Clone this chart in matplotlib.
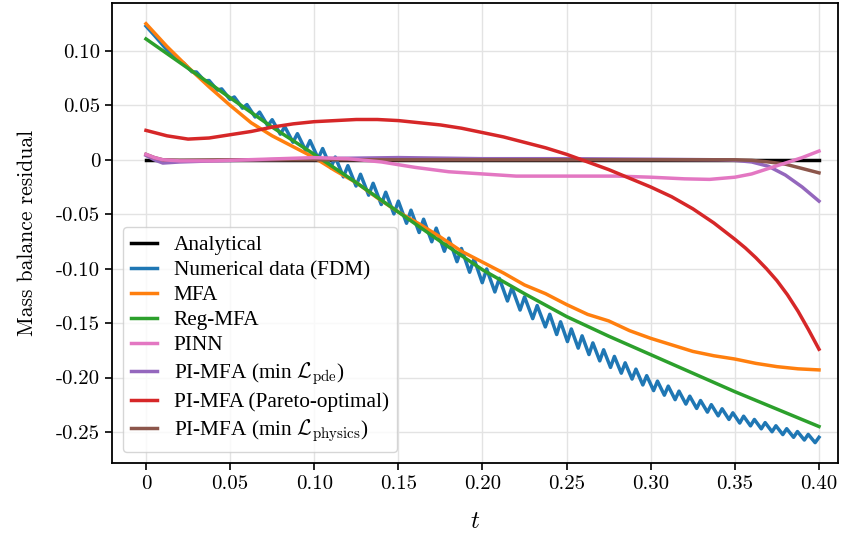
import numpy as np
import matplotlib
matplotlib.use("Agg")
import matplotlib.pyplot as plt

plt.rcParams['mathtext.fontset'] = 'cm'

# analytical
t_ana = [0.0, 0.4]
y_ana = [0.0, 0.0]

# numerical data (FDM), zigzag
# peaks on even points, troughs on odd points (troughs sit a bit late, saw-like)
t_fdm_a = np.linspace(0.0, 0.24, 65)
t_fdm_a[1::2] += 0.0011
t_fdm_b = np.linspace(0.2432, 0.4, 50)
t_fdm_b[0::2] += 0.0009
t_fdm = list(t_fdm_a) + list(t_fdm_b)
y_fdm = [
    0.1228, 0.1145, 0.1098, 0.1011, 0.0980, 0.0907, 0.0887, 0.0808, 0.0806, 0.0724,
    0.0728, 0.0640, 0.0651, 0.0555, 0.0577, 0.0474, 0.0507, 0.0393, 0.0438, 0.0313,
    0.0368, 0.0235, 0.0304, 0.0161, 0.0240, 0.0087, 0.0176, 0.0012, 0.0103, -0.0073,
    0.0025, -0.0157, -0.0054, -0.0241, -0.0133, -0.0325, -0.0216, -0.0411, -0.0298, -0.0497,
    -0.0380, -0.0583, -0.0463, -0.0668, -0.0546, -0.0753, -0.0628, -0.0840, -0.0720, -0.0936,
    -0.0815, -0.1033, -0.0911, -0.1129, -0.1003, -0.1214, -0.1089, -0.1297, -0.1174, -0.1380,
    -0.1259, -0.1459, -0.1339, -0.1535, -0.1419,
    -0.1605, -0.1488, -0.1670, -0.1554, -0.1730, -0.1617, -0.1789, -0.1682, -0.1847, -0.1745,
    -0.1907, -0.1806, -0.1960, -0.1865, -0.2014, -0.1923, -0.2068, -0.1983, -0.2120, -0.2033,
    -0.2162, -0.2079, -0.2203, -0.2125, -0.2244, -0.2171, -0.2284, -0.2211, -0.2318, -0.2249,
    -0.2352, -0.2287, -0.2385, -0.2324, -0.2418, -0.2355, -0.2444, -0.2385, -0.2471, -0.2414,
    -0.2498, -0.2443, -0.2524, -0.2470, -0.2549, -0.2496, -0.2574, -0.2522, -0.2598, -0.2549,
]

# MFA
t_mfa = [0.0, 0.0125, 0.025, 0.0375, 0.05, 0.0625, 0.075, 0.0875, 0.1, 0.1125, 0.125,
         0.1375, 0.15, 0.1625, 0.175, 0.1875, 0.2, 0.2125, 0.225, 0.2375, 0.25, 0.2625,
         0.275, 0.2875, 0.3, 0.3125, 0.325, 0.3375, 0.35, 0.3625, 0.375, 0.3875, 0.4]
y_mfa = [0.125, 0.104, 0.085, 0.067, 0.050, 0.034, 0.022, 0.012, 0.002, -0.010, -0.021,
         -0.035, -0.048, -0.059, -0.071, -0.084, -0.094, -0.104, -0.115, -0.123, -0.133, -0.142,
         -0.148, -0.157, -0.164, -0.170, -0.176, -0.180, -0.183, -0.187, -0.190, -0.192, -0.193]

# Reg-MFA
t_reg = [0.0, 0.025, 0.05, 0.075, 0.1, 0.125, 0.15, 0.175, 0.2, 0.225, 0.25,
         0.275, 0.3, 0.325, 0.35, 0.375, 0.4]
y_reg = [0.111, 0.084, 0.057, 0.030, 0.005, -0.021, -0.048, -0.075, -0.101, -0.123, -0.144,
         -0.162, -0.179, -0.196, -0.213, -0.229, -0.245]

# PINN
t_pinn = [0.0, 0.005, 0.01, 0.02, 0.04, 0.06, 0.08, 0.1, 0.12, 0.14, 0.16, 0.18, 0.2,
          0.22, 0.24, 0.26, 0.28, 0.3, 0.32, 0.335, 0.35, 0.36, 0.37, 0.38, 0.39, 0.4]
y_pinn = [0.005, 0.002, 0.000, -0.001, -0.001, 0.000, 0.001, 0.002, 0.001, -0.002, -0.007,
          -0.011, -0.013, -0.015, -0.015, -0.015, -0.015, -0.016, -0.0175, -0.018, -0.016,
          -0.013, -0.008, -0.003, 0.002, 0.008]

# PI-MFA (min L_pde)
t_pde = [0.0, 0.005, 0.01, 0.02, 0.04, 0.1, 0.15, 0.2, 0.25, 0.3, 0.34, 0.35, 0.36,
         0.37, 0.38, 0.39, 0.4]
y_pde = [0.004, 0.000, -0.003, -0.002, -0.001, 0.001, 0.002, 0.001, 0.001, 0.0005, 0.0,
         -0.0005, -0.002, -0.006, -0.014, -0.025, -0.038]

# PI-MFA (Pareto-optimal)
t_par = [0.0, 0.0125, 0.025, 0.0375, 0.05, 0.0625, 0.075, 0.0875, 0.1, 0.1125, 0.125,
         0.1375, 0.15, 0.1625, 0.175, 0.1875, 0.2, 0.2125, 0.225, 0.2375, 0.25, 0.2625,
         0.275, 0.2875, 0.3, 0.3125, 0.325, 0.3375, 0.35, 0.35625, 0.3625, 0.36875, 0.375,
         0.38125, 0.3875, 0.39375, 0.4]
y_par = [0.027, 0.022, 0.019, 0.020, 0.023, 0.026, 0.030, 0.033, 0.035, 0.036, 0.037,
         0.037, 0.036, 0.034, 0.032, 0.029, 0.025, 0.021, 0.016, 0.011, 0.005, -0.002,
         -0.009, -0.017, -0.025, -0.034, -0.045, -0.058, -0.073, -0.081, -0.090, -0.100, -0.111,
         -0.124, -0.139, -0.156, -0.174]

# PI-MFA (min L_physics)
t_phy = [0.0, 0.005, 0.01, 0.02, 0.05, 0.1, 0.2, 0.3, 0.35, 0.36, 0.37, 0.38, 0.39, 0.4]
y_phy = [0.005, 0.002, 0.0, -0.0005, 0.0, 0.0, 0.0, 0.0, 0.0, -0.0005, -0.002, -0.004,
         -0.008, -0.012]

xticks = [0, 0.05, 0.10, 0.15, 0.20, 0.25, 0.30, 0.35, 0.40]
xlabels = ['0', '0.05', '0.10', '0.15', '0.20', '0.25', '0.30', '0.35', '0.40']
yticks = [0.10, 0.05, 0, -0.05, -0.10, -0.15, -0.20, -0.25]
ylabels = ['0.10', '0.05', '0', '-0.05', '-0.10', '-0.15', '-0.20', '-0.25']

fig = plt.figure(figsize=(8.44, 5.36), dpi=100)
ax = fig.add_axes([112/844, 73/536, 726/844, 460/536])

lw = 2.5
ax.plot(t_ana, y_ana, color='black', lw=lw, label='Analytical')
ax.plot(t_fdm, y_fdm, color='#1f77b4', lw=lw, label='Numerical data (FDM)')
ax.plot(t_mfa, y_mfa, color='#ff7f0e', lw=lw, label='MFA')
ax.plot(t_reg, y_reg, color='#2ca02c', lw=lw, label='Reg-MFA')
ax.plot(t_pinn, y_pinn, color='#e377c2', lw=lw, label='PINN', zorder=3)
ax.plot(t_pde, y_pde, color='#9467bd', lw=lw, label=r'PI-MFA (min $\mathcal{L}_{\mathrm{pde}}$)')
ax.plot(t_par, y_par, color='#d62728', lw=lw, label='PI-MFA (Pareto-optimal)', zorder=3)
ax.plot(t_phy, y_phy, color='#8c564b', lw=lw, label=r'PI-MFA (min $\mathcal{L}_{\mathrm{physics}}$)')

ax.set_xlim(-0.0202, 0.4113)
ax.set_ylim(-0.2785, 0.144)
ax.set_xticks(xticks)
ax.set_xticklabels(xlabels, fontsize=15, family='cmr10')
ax.set_yticks(yticks)
ax.set_yticklabels(ylabels, fontsize=15, family='cmr10')
ax.tick_params(direction='out', length=5, width=1.2)

ax.grid(True, color='#e3e3e3', lw=1.0)
ax.set_axisbelow(True)
for s in ax.spines.values():
    s.set_linewidth(1.3)

ax.set_xlabel(r'$t$', fontsize=18, labelpad=12)
ax.set_ylabel('Mass balance residual', fontsize=15.5, family='cmr10', labelpad=14)

leg = ax.legend(loc='lower left', prop={'family': 'Liberation Serif', 'size': 15.3},
                labelspacing=0.24, handlelength=1.2, fancybox=True, borderaxespad=0.5)
leg.get_frame().set_edgecolor('#cccccc')

fig.savefig('out.png', dpi=100)
